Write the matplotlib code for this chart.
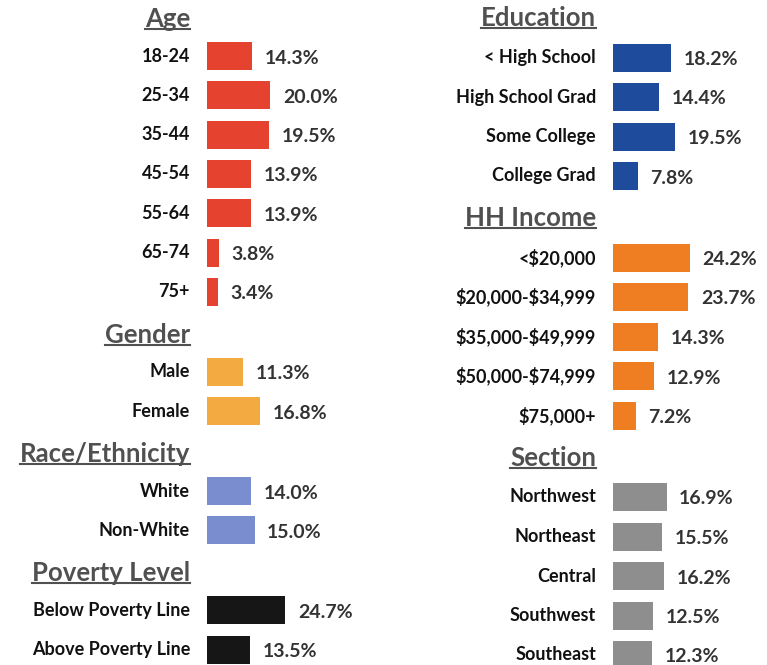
import matplotlib
matplotlib.use("Agg")
import matplotlib.pyplot as plt
from matplotlib.lines import Line2D

plt.rcParams["text.parse_math"] = False

# ---------------- data ----------------
age_labels = ["18-24", "25-34", "35-44", "45-54", "55-64", "65-74", "75+"]
age_values = [14.3, 20.0, 19.5, 13.9, 13.9, 3.8, 3.4]

gender_labels = ["Male", "Female"]
gender_values = [11.3, 16.8]

race_labels = ["White", "Non-White"]
race_values = [14.0, 15.0]

poverty_labels = ["Below Poverty Line", "Above Poverty Line"]
poverty_values = [24.7, 13.5]

education_labels = ["< High School", "High School Grad", "Some College", "College Grad"]
education_values = [18.2, 14.4, 19.5, 7.8]

income_labels = ["<$20,000", "$20,000-$34,999", "$35,000-$49,999", "$50,000-$74,999", "$75,000+"]
income_values = [24.2, 23.7, 14.3, 12.9, 7.2]

section_labels = ["Northwest", "Northeast", "Central", "Southwest", "Southeast"]
section_values = [16.9, 15.5, 16.2, 12.5, 12.3]

left_groups = [
    ("Age", age_labels, age_values, "#E5432F"),
    ("Gender", gender_labels, gender_values, "#F3AA40"),
    ("Race/Ethnicity", race_labels, race_values, "#7A8DCF"),
    ("Poverty Level", poverty_labels, poverty_values, "#161616"),
]
right_groups = [
    ("Education", education_labels, education_values, "#1E4B9B"),
    ("HH Income", income_labels, income_values, "#EF7D22"),
    ("Section", section_labels, section_values, "#8E8E8E"),
]

# ---------------- layout ----------------
W, H = 767, 665
DPI = 100
PX_PER_PCT = 3.17
FONT = ["Lato", "DejaVu Sans"]

fig = plt.figure(figsize=(W / DPI, H / DPI), dpi=DPI)
fig.patch.set_facecolor("white")

titles = []


def draw_column(groups, origin_px, start_y, title_gap, step, group_gap):
    ax = fig.add_axes([0, 0, 1, 1])
    ax.set_xlim(-origin_px / PX_PER_PCT, (W - origin_px) / PX_PER_PCT)
    ax.set_ylim(H, 0)
    ax.axis("off")
    ax.patch.set_alpha(0)
    label_x = -17 / PX_PER_PCT
    y = start_y
    for title, labels, values, color in groups:
        t = ax.text(label_x, y, title, ha="right", va="center", fontsize=18.5,
                    fontweight="bold", color="#505050", family=FONT)
        titles.append(t)
        y += title_gap
        ys = [y + i * step for i in range(len(labels))]
        ax.barh(ys, values, height=28, left=0, color=color, edgecolor="none")
        for yy, lab, v in zip(ys, labels, values):
            ax.text(label_x, yy, lab, ha="right", va="center", fontsize=13,
                    fontweight="bold", color="#111111", family=FONT)
            ax.text(v + 4.0, yy + 2, f"{v:.1f}%", ha="left", va="center",
                    fontsize=14, fontweight="bold", color="#333333", family=FONT)
        y = ys[-1] + group_gap
    return ax


draw_column(left_groups, 207, 19, 37, 39.3, 43)
draw_column(right_groups, 613, 18, 39.5, 39.5, 42)

# underline titles
fig.canvas.draw()
renderer = fig.canvas.get_renderer()
for t in titles:
    bb = t.get_window_extent(renderer)
    yline = bb.y0 + 2
    fig.add_artist(Line2D([bb.x0 / W, bb.x1 / W], [yline / H, yline / H],
                          transform=fig.transFigure, color="#505050", lw=1.5))

fig.savefig("out.png", dpi=DPI, facecolor="white")
